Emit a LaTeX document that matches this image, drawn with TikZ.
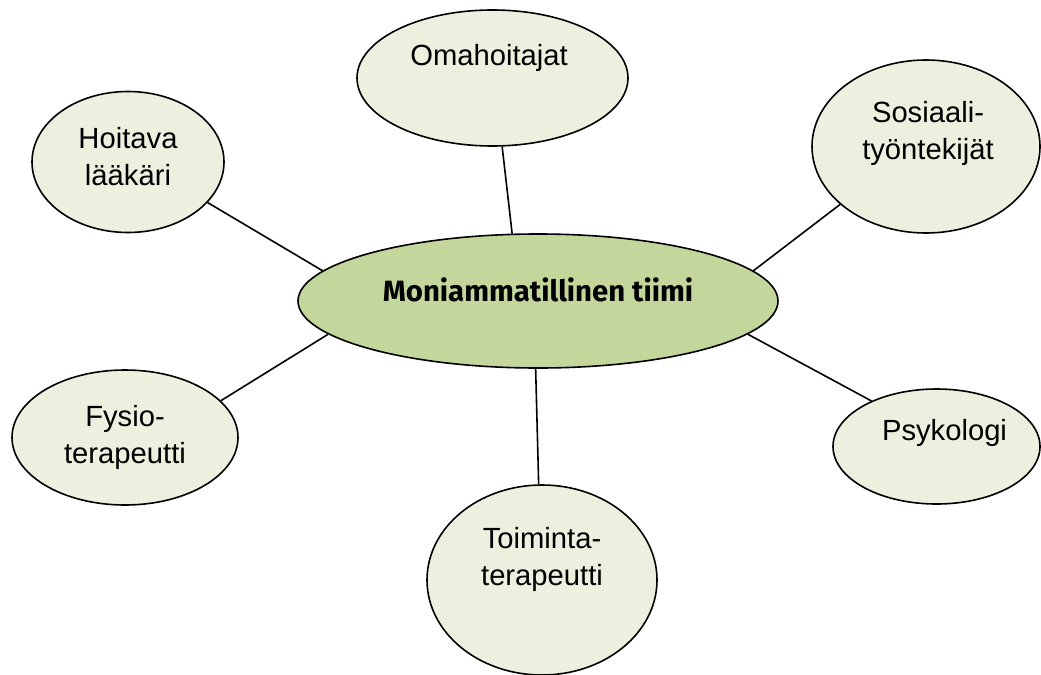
\documentclass[tikz,border=0pt]{standalone}
\usepackage{fontspec}
\setmainfont{Liberation Sans}
\newfontfamily\handfont{Fira Sans}
\usetikzlibrary{shapes.geometric,calc}
\definecolor{leaf}{HTML}{EBF1DE}
\definecolor{leafd}{HTML}{C3D69B}
\tikzset{
  dims/.style 2 args={minimum width=#1*0.75pt,minimum height=#2*0.75pt},
  role/.style={ellipse,draw=black,line width=1.2pt,fill=leaf,inner sep=0pt},
  hub/.style={role,fill=leafd},
  lab/.style={font=\fontsize{21.9}{28.1}\selectfont,align=center,inner sep=0pt},
  hublab/.style={font=\handfont\bfseries\fontsize{22}{26}\selectfont,inner sep=0pt},
  link/.style={draw=black,line width=1.2pt},
}

\begin{document}
\begin{tikzpicture}[x=0.75pt,y=-0.75pt]
\useasboundingbox (0,0) rectangle (1041,674);
% the team in the middle
\node[hub,dims={480}{134}] (tiimi) at (538,301) {};
\node[hublab] at ($(tiimi)+(0,-11)$) {Moniammatillinen tiimi};
% members round it
\node[role,dims={271}{136}] (oma) at (492.5,78) {};
\node[role,dims={192}{141}] (hoit) at (128,162) {};
\node[role,dims={228}{173}] (sos) at (926,146.5) {};
\node[role,dims={226}{135}] (fys) at (125,437.5) {};
\node[role,dims={207}{115}] (psyk) at (936.5,446.5) {};
\node[role,dims={230}{190}] (toim) at (542,580) {};
\node[lab] at ($(oma)+(-3.5,-19.6)$) {Omahoitajat};
\node[lab] at ($(hoit)+(0,-5.5)$) {Hoitava\\lääkäri};
\node[lab] at ($(sos)+(2,-13)$) {Sosiaali-\\työntekijät};
\node[lab] at (fys) {Fysio-\\terapeutti};
\node[lab] at ($(psyk)+(8,-14)$) {Psykologi};
\node[lab] at ($(toim)+(0,-20.5)$) {Toiminta-\\terapeutti};
% spokes
\draw[link] (hoit.-27) -- (tiimi.172);
\draw[link] (oma.-82) -- (tiimi.111);
\draw[link] (sos.-146) -- (tiimi.8);
\draw[link] (fys.21) -- (tiimi.-171);
\draw[link] (psyk.145) -- (tiimi.-9);
\draw[link] (toim.92) -- (tiimi.-92);
\end{tikzpicture}
\end{document}
